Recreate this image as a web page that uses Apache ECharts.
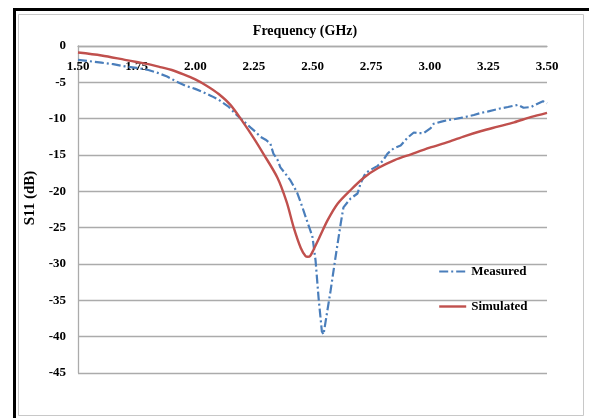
<!DOCTYPE html>
<html>
<head>
<meta charset="utf-8">
<script src="https://cdn.jsdelivr.net/npm/echarts@6/dist/echarts.min.js"></script>
<style>
html,body{margin:0;padding:0;background:#fff;}
#c{width:589px;height:418px;}
</style>
</head>
<body>
<div id="c"></div>
<script>
// Frequency (GHz) and S11 (dB)
const measuredFreq = [1.50,1.55,1.60,1.65,1.70,1.75,1.80,1.84,1.88,1.92,1.96,2.00,2.03,2.07,2.10,2.14,2.18,2.205,2.235,2.26,2.278,2.30,2.32,2.333,2.35,2.363,2.385,2.406,2.42,2.436,2.457,2.479,2.491,2.50,2.513,2.526,2.54,2.547,2.556,2.577,2.598,2.62,2.632,2.662,2.692,2.705,2.726,2.75,2.778,2.80,2.82,2.846,2.876,2.906,2.932,2.955,2.974,3.004,3.017,3.05,3.077,3.10,3.132,3.16,3.188,3.218,3.25,3.274,3.30,3.333,3.376,3.40,3.432,3.462,3.483,3.50];
const measuredS11 = [-1.9,-2.1,-2.3,-2.5,-2.8,-3.0,-3.3,-3.7,-4.2,-4.9,-5.5,-5.9,-6.3,-6.9,-7.4,-8.3,-9.6,-10.3,-11.2,-11.9,-12.5,-12.9,-13.4,-14.8,-15.6,-16.7,-17.6,-18.5,-19.3,-20.3,-22.2,-24.3,-25.4,-26.3,-29.5,-34.7,-39.3,-39.7,-37.9,-33.7,-29.1,-24.5,-22.2,-21.0,-20.3,-18.9,-17.5,-17.0,-16.5,-15.8,-14.8,-14.1,-13.7,-12.6,-11.9,-12.0,-12.0,-11.3,-10.7,-10.4,-10.2,-10.1,-9.9,-9.7,-9.5,-9.2,-9.0,-8.8,-8.6,-8.4,-8.1,-8.5,-8.4,-7.9,-7.6,-7.9];
const simulatedFreq = [1.50,1.60,1.70,1.75,1.80,1.85,1.90,1.95,2.00,2.05,2.10,2.15,2.20,2.25,2.29,2.35,2.39,2.42,2.45,2.47,2.48,2.49,2.505,2.526,2.564,2.607,2.66,2.72,2.78,2.85,2.92,3.00,3.08,3.15,3.22,3.29,3.36,3.43,3.50];
const simulatedS11 = [-0.9,-1.3,-1.9,-2.2,-2.5,-2.9,-3.3,-3.9,-4.6,-5.5,-6.6,-8.1,-10.3,-12.7,-14.8,-18.1,-21.5,-25.0,-27.8,-28.9,-29.0,-28.9,-28.0,-26.6,-24.0,-21.7,-19.9,-18.1,-16.8,-15.7,-14.9,-14.0,-13.2,-12.4,-11.7,-11.1,-10.5,-9.8,-9.2];
const seriesNames = ['Measured','Simulated'];

const FONT = '"Liberation Serif","Times New Roman",serif';
const zip = (a,b) => a.map((v,i) => [v, b[i]]);
const DASHDOT = [9,3,2,3];

const chart = echarts.init(document.getElementById('c'), null, {renderer:'canvas'});
chart.setOption({
  backgroundColor:'#ffffff',
  animation:false,
  title:{
    text:'Frequency (GHz)', left:300, top:19, textAlign:'center',
    textStyle:{fontFamily:FONT, fontWeight:'bold', fontSize:14, color:'#000'}
  },
  grid:{left:78, right:42, top:46, bottom:45, containLabel:false, outerBoundsMode:'none'},
  legend:{
    orient:'vertical', left:438, top:265, padding:0,
    itemWidth:27, itemHeight:14, itemGap:22,
    itemStyle:{color:'transparent', opacity:0, borderWidth:0},
    textStyle:{fontFamily:FONT, fontWeight:'bold', fontSize:13, color:'#000'},
    data:[
      {name:seriesNames[0], lineStyle:{color:'#4a7ebb', width:2.2, type:DASHDOT}},
      {name:seriesNames[1], lineStyle:{color:'#c0504d', width:2.4, type:'solid'}}
    ]
  },
  xAxis:{
    type:'value', position:'top', min:1.5, max:3.5, interval:0.25,
    axisLine:{show:true, lineStyle:{color:'#ababab', width:1.3}},
    axisTick:{show:false},
    splitLine:{show:false},
    axisLabel:{inside:true, margin:14, formatter:v=>v.toFixed(2),
      fontFamily:FONT, fontWeight:'bold', fontSize:13, color:'#000'}
  },
  yAxis:{
    type:'value', min:-45, max:0, interval:5,
    axisLine:{show:true, lineStyle:{color:'#ababab', width:1.3}},
    axisTick:{show:false},
    splitLine:{show:true, lineStyle:{color:'#ababab', width:1.3}},
    axisLabel:{margin:12, fontFamily:FONT, fontWeight:'bold', fontSize:13, color:'#000'}
  },
  graphic:[
    {type:'rect', shape:{x:14.5, y:9.5, width:620, height:500}, style:{fill:'none', stroke:'#000', lineWidth:3}, silent:true},
    {type:'rect', shape:{x:18.5, y:14.5, width:565, height:401}, style:{fill:'none', stroke:'#c8c8c8', lineWidth:1}, silent:true},
    {type:'text', x:30, y:198, rotation:Math.PI/2,
     style:{text:'S11 (dB)', fontFamily:FONT, fontWeight:'bold', fontSize:15, fill:'#000', align:'center', verticalAlign:'middle'}}
  ],
  series:[
    {name:seriesNames[0], type:'line', data:zip(measuredFreq, measuredS11), symbol:'none',
     lineStyle:{color:'#4a7ebb', width:2.2, type:DASHDOT}, itemStyle:{color:'#4a7ebb'}},
    {name:seriesNames[1], type:'line', data:zip(simulatedFreq, simulatedS11), symbol:'none', smooth:0.3,
     lineStyle:{color:'#c0504d', width:2.4}, itemStyle:{color:'#c0504d'}}
  ]
});
</script>
</body>
</html>
